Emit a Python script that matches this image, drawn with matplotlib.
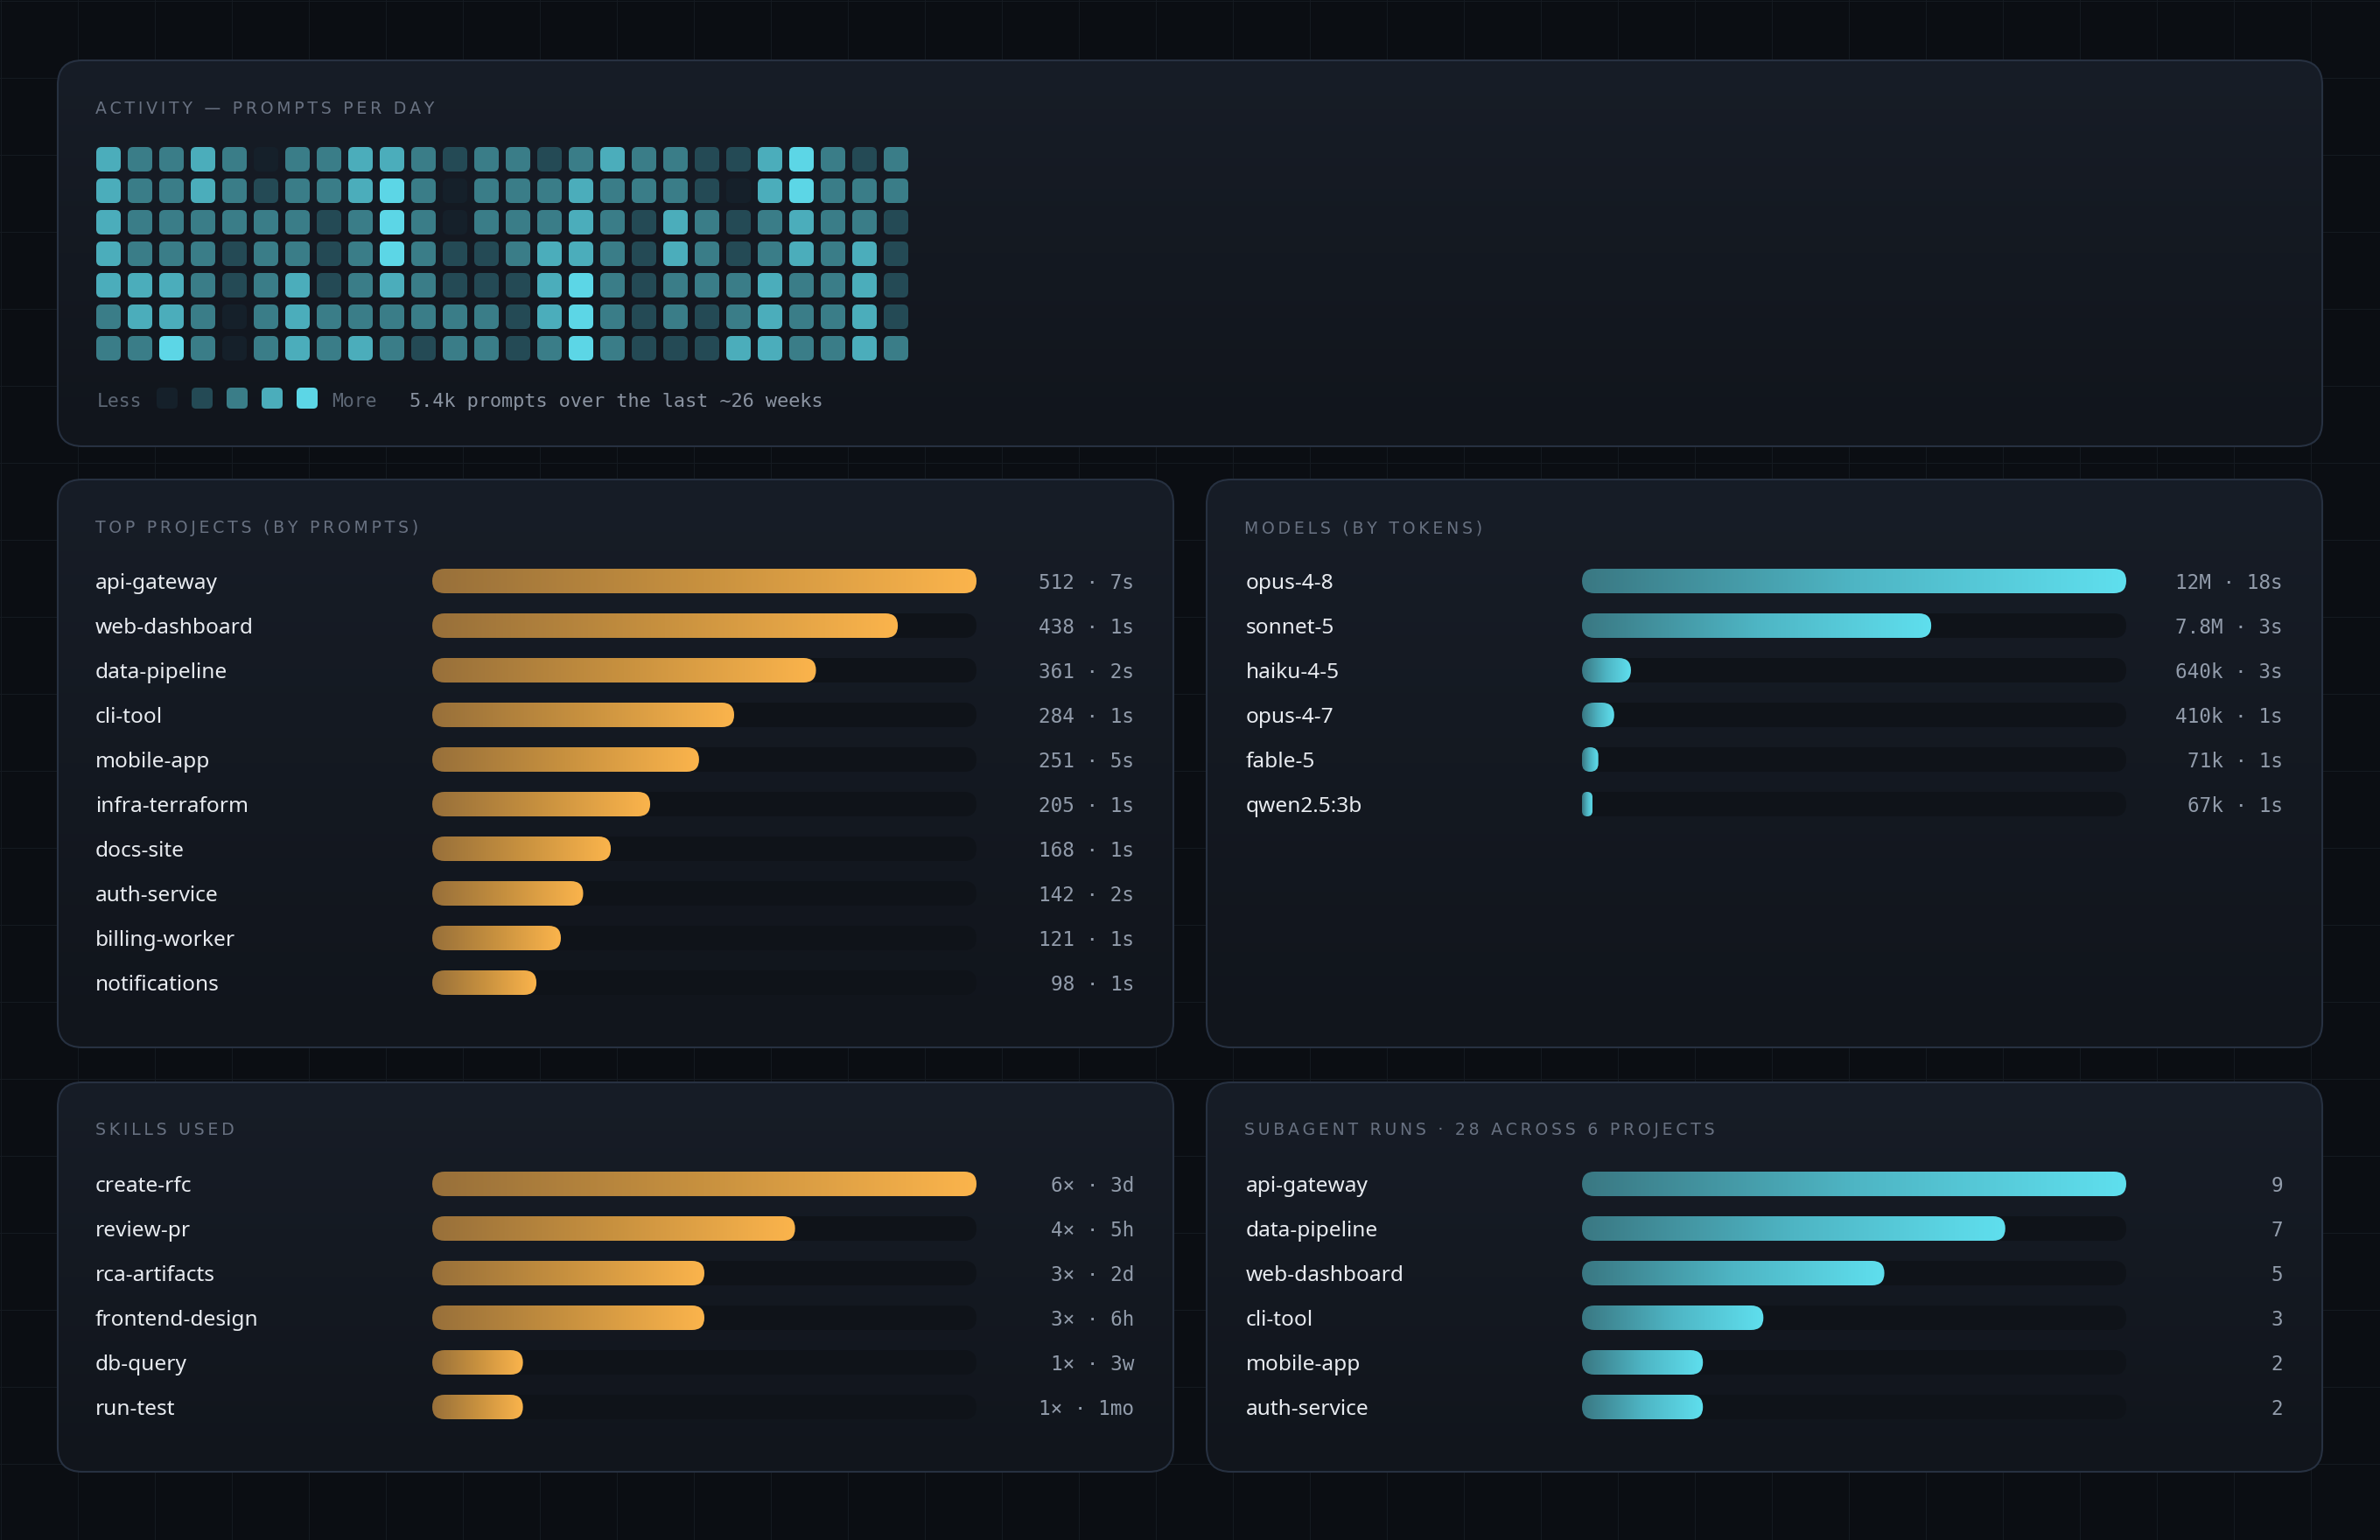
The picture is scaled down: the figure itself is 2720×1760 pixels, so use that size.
import numpy as np
import matplotlib
matplotlib.use("Agg")
import matplotlib.pyplot as plt
import matplotlib.transforms as mtransforms
from matplotlib.patches import FancyBboxPatch
from matplotlib.colors import LinearSegmentedColormap, ListedColormap

# ---------------- data ----------------
# activity levels (0..4), 7 weekdays x 26 weeks
activity = [
    [3, 2, 2, 3, 2, 0, 2, 2, 3, 3, 2, 1, 2, 2, 1, 2, 3, 2, 2, 1, 1, 3, 4, 2, 1, 2],
    [3, 2, 2, 3, 2, 1, 2, 2, 3, 4, 2, 0, 2, 2, 2, 3, 2, 2, 2, 1, 0, 3, 4, 2, 2, 2],
    [3, 2, 2, 2, 2, 2, 2, 1, 2, 4, 2, 0, 2, 2, 2, 3, 2, 1, 3, 2, 1, 2, 3, 2, 2, 1],
    [3, 2, 2, 2, 1, 2, 2, 1, 2, 4, 2, 1, 1, 2, 3, 3, 2, 1, 3, 2, 1, 2, 3, 2, 3, 1],
    [3, 3, 3, 2, 1, 2, 3, 1, 2, 3, 2, 1, 1, 1, 3, 4, 2, 1, 2, 2, 2, 3, 2, 2, 3, 1],
    [2, 3, 3, 2, 0, 2, 3, 2, 2, 2, 2, 2, 2, 1, 3, 4, 2, 1, 2, 1, 2, 3, 2, 2, 3, 1],
    [2, 2, 4, 2, 0, 2, 3, 2, 3, 2, 1, 2, 2, 1, 2, 4, 2, 1, 1, 1, 3, 3, 2, 2, 3, 2],
]
heat_colors = ["#15202a", "#244a55", "#3a7d88", "#4badbb", "#5cd6e6"]
activity_summary = "5.4k prompts over the last ~26 weeks"

project_names = ["api-gateway", "web-dashboard", "data-pipeline", "cli-tool", "mobile-app",
                 "infra-terraform", "docs-site", "auth-service", "billing-worker", "notifications"]
project_prompts = [512, 438, 361, 284, 251, 205, 168, 142, 121, 98]
project_time = ["7s", "1s", "2s", "1s", "5s", "1s", "1s", "2s", "1s", "1s"]

model_names = ["opus-4-8", "sonnet-5", "haiku-4-5", "opus-4-7", "fable-5", "qwen2.5:3b"]
model_tokens = ["12M", "7.8M", "640k", "410k", "71k", "67k"]
model_time = ["18s", "3s", "3s", "1s", "1s", "1s"]
# bar lengths (millions of tokens)
model_bar_mtok = [12.0, 7.7, 1.08, 0.71, 0.36, 0.23]

skill_names = ["create-rfc", "review-pr", "rca-artifacts", "frontend-design", "db-query", "run-test"]
skill_uses = [6, 4, 3, 3, 1, 1]
skill_last = ["3d", "5h", "2d", "6h", "3w", "1mo"]

sub_projects = ["api-gateway", "data-pipeline", "web-dashboard", "cli-tool", "mobile-app", "auth-service"]
sub_runs = [9, 7, 5, 3, 2, 2]

# ---------------- style ----------------
W, H, DPI = 2720, 1760, 200
BG = "#0b0e13"
GRID = "#151a21"
BORDER = "#273141"
TRACK = "#0f1319"
TITLE_C = "#687181"
LABEL_C = "#e8ebf0"
VALUE_C = "#929cab"
SANS = "Noto Sans"
MONO = "DejaVu Sans Mono"

orange = LinearSegmentedColormap.from_list("orange", ["#98703a", "#c8913f", "#fbb44c"])
teal = LinearSegmentedColormap.from_list("teal", ["#3a7883", "#4eb5c4", "#5fdfee"])
panel_cmap = LinearSegmentedColormap.from_list("panel", ["#171d27", "#11151c"])

ROW = 51
BAR_H = 28
TRACK_W = 622

fig = plt.figure(figsize=(W / DPI, H / DPI), dpi=DPI, facecolor=BG)


def px_axes(x, y, w, h, z=1):
    ax = fig.add_axes([x / W, 1 - (y + h) / H, w / W, h / H], zorder=z)
    ax.axis("off")
    return ax


bg = px_axes(0, 0, W, H, z=0)
bg.set_autoscale_on(False)
bg.set_xlim(0, W)
bg.set_ylim(H, 0)

for gx in np.arange(1, W, 88):
    bg.plot([gx, gx], [0, H], color=GRID, lw=0.4, zorder=0)
for gy in np.arange(1, H, 88):
    bg.plot([0, W], [gy, gy], color=GRID, lw=0.4, zorder=0)


def spaced(s):
    return "\u2009".join(s)


def panel(x, y, w, h, title, title_y):
    box = FancyBboxPatch((x, y), w, h, boxstyle="round,pad=0,rounding_size=28",
                         fc="none", ec=BORDER, lw=0.75, zorder=3)
    bg.add_patch(box)
    grad = np.linspace(0, 1, 256).reshape(-1, 1)
    im = bg.imshow(grad, cmap=panel_cmap, extent=(x, x + w, y + h, y),
                   aspect="auto", zorder=2, interpolation="bilinear")
    im.set_clip_path(box)
    bg.text(x + 43, title_y, spaced(title), color=TITLE_C, fontsize=6.8,
            family="DejaVu Sans", va="baseline", ha="left", zorder=4)


panel(66, 69, 2588, 441, "ACTIVITY \u2014 PROMPTS PER DAY", 130)
panel(66, 548, 1275, 649, "TOP PROJECTS (BY PROMPTS)", 609)
panel(1379, 548, 1275, 649, "MODELS (BY TOKENS)", 609)
panel(66, 1237, 1275, 445, "SKILLS USED", 1297)
panel(1379, 1237, 1275, 445, "SUBAGENT RUNS \u00b7 28 ACROSS 6 PROJECTS", 1297)

# ---------------- heatmap ----------------
heat_cmap = ListedColormap(heat_colors)
levels = np.array(activity)
n_rows, n_cols = levels.shape
hm = px_axes(106, 164, 36 * n_cols, 36 * n_rows, z=2)
cell = 28 / 36
for r in range(n_rows):
    for c in range(n_cols):
        hm.add_patch(FancyBboxPatch((c - cell / 2, r - cell / 2), cell, cell,
                                    boxstyle=f"round,pad=0,rounding_size={6 / 36}",
                                    fc=heat_cmap(levels[r, c]), ec="none"))
hm.set_xlim(-0.5, n_cols - 0.5)
hm.set_ylim(n_rows - 0.5, -0.5)

# legend
bg.text(111, 465, "Less", color="#5d6775", fontsize=7.7, family=MONO, va="baseline", zorder=4)
for k, col in enumerate(heat_colors):
    bg.add_patch(FancyBboxPatch((179 + 40 * k, 443), 24, 24,
                                boxstyle="round,pad=0,rounding_size=5",
                                fc=col, ec="none", zorder=4))
bg.text(379, 465, "More", color="#5d6775", fontsize=7.7, family=MONO, va="baseline", zorder=4)
bg.text(468, 465, activity_summary, color="#8a93a1", fontsize=7.9, family=MONO,
        va="baseline", zorder=4)


# ---------------- bar panels ----------------
def bar_panel(track_x, row0_y, label_x, value_x, names, values, vmax, texts, cmap):
    n = len(values)
    ax = px_axes(track_x, row0_y - ROW / 2, TRACK_W, n * ROW, z=2)
    ux = TRACK_W / vmax
    asp = ux / ROW
    bh = BAR_H / ROW
    tr = mtransforms.blended_transform_factory(ax.transAxes, ax.transData)
    grad = np.linspace(0, 1, 256).reshape(1, -1)
    for i, (name, v, t) in enumerate(zip(names, values, texts)):
        ax.add_patch(FancyBboxPatch((0, i - bh / 2), vmax, bh,
                                    boxstyle=f"round,pad=0,rounding_size={BAR_H / 2 / ux}",
                                    mutation_aspect=asp, fc=TRACK, ec="none", zorder=1))
        r = min(BAR_H / 2, v * ux / 2) / ux
        bar = FancyBboxPatch((0, i - bh / 2), v, bh,
                             boxstyle=f"round,pad=0,rounding_size={r}",
                             mutation_aspect=asp, fc="none", ec="none", zorder=2)
        ax.add_patch(bar)
        im = ax.imshow(grad, cmap=cmap, extent=(0, v, i + bh / 2, i - bh / 2),
                       aspect="auto", interpolation="bilinear", zorder=2)
        im.set_clip_path(bar)
        ax.text((label_x - track_x) / TRACK_W, i + 9 / ROW, name, transform=tr,
                color=LABEL_C, fontsize=8.8, family=SANS, ha="left", va="baseline")
        ax.text((value_x - track_x) / TRACK_W, i + 9 / ROW, t, transform=tr,
                color=VALUE_C, fontsize=8.15, family=MONO, ha="right", va="baseline")
    ax.set_xlim(0, vmax)
    ax.set_ylim(n - 0.5, -0.5)
    return ax


bar_panel(494, 664, 109, 1296, project_names, project_prompts, max(project_prompts),
          [f"{p} \u00b7 {t}" for p, t in zip(project_prompts, project_time)], orange)
bar_panel(1808, 664, 1424, 2609, model_names, model_bar_mtok, max(model_bar_mtok),
          [f"{k} \u00b7 {t}" for k, t in zip(model_tokens, model_time)], teal)
bar_panel(494, 1353, 109, 1296, skill_names, skill_uses, max(skill_uses),
          [f"{u}\u00d7 \u00b7 {t}" for u, t in zip(skill_uses, skill_last)], orange)
bar_panel(1808, 1353, 1424, 2609, sub_projects, sub_runs, max(sub_runs),
          [str(r) for r in sub_runs], teal)

fig.savefig("out.png", dpi=DPI, facecolor=BG)
